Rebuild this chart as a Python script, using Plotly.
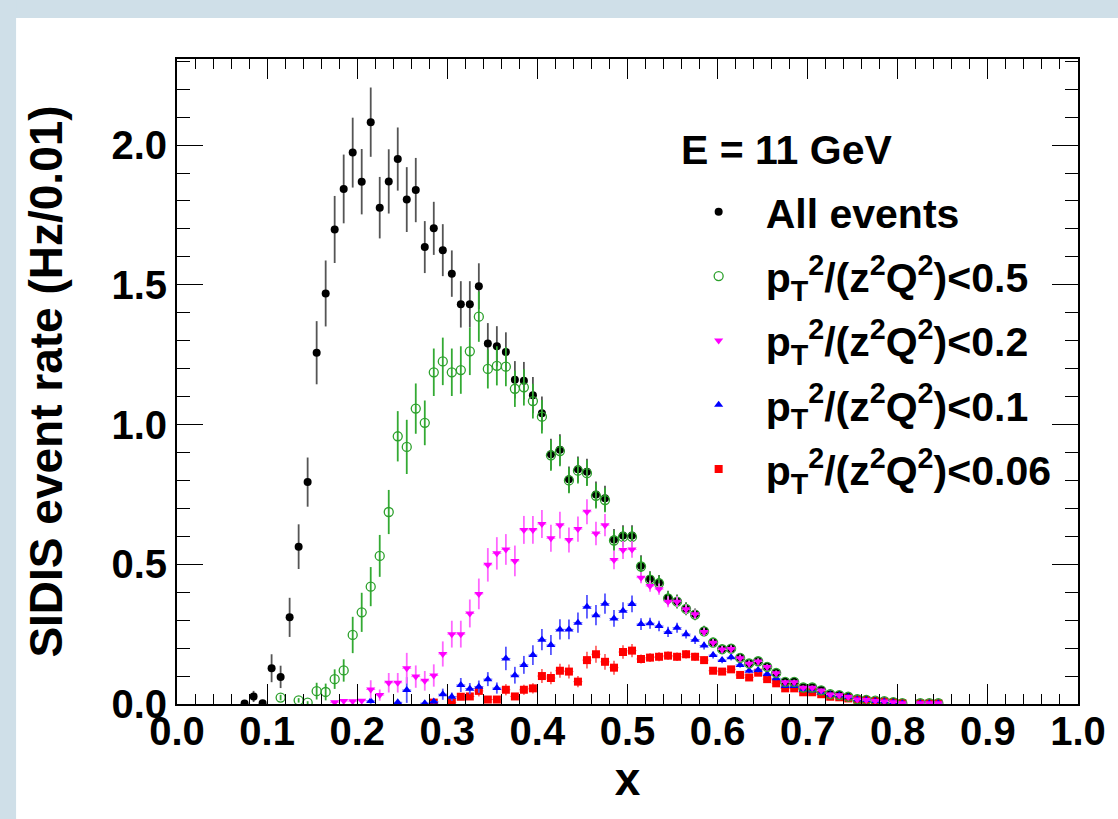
import plotly.graph_objects as go

# bin centres (bin width 0.01)
x_bins = [0.075, 0.085, 0.095, 0.105, 0.115, 0.125, 0.135, 0.145, 0.155, 0.165,
          0.175, 0.185, 0.195, 0.205, 0.215, 0.225, 0.235, 0.245, 0.255, 0.265,
          0.275, 0.285, 0.295, 0.305, 0.315, 0.325, 0.335, 0.345, 0.355, 0.365,
          0.375, 0.385, 0.395, 0.405, 0.415, 0.425, 0.435, 0.445, 0.455, 0.465,
          0.475, 0.485, 0.495, 0.505, 0.515, 0.525, 0.535, 0.545, 0.555, 0.565,
          0.575, 0.585, 0.595, 0.605, 0.615, 0.625, 0.635, 0.645, 0.655, 0.665,
          0.675, 0.685, 0.695, 0.705, 0.715, 0.725, 0.735, 0.745, 0.755, 0.765,
          0.775, 0.785, 0.795, 0.805, 0.815, 0.825, 0.835, 0.845]
x_halfwidth = [0.005] * len(x_bins)

N = None
all_y = [0.002, 0.027, 0.003, 0.128, 0.097, 0.31, 0.563, 0.794, 1.257, 1.469,
         1.698, 1.843, 1.973, 1.869, 2.082, 1.776, 1.87, 1.95, 1.805, 1.839,
         1.635, 1.702, 1.624, 1.54, 1.43, 1.43, 1.495, 1.29, 1.28, 1.26,
         1.16, 1.157, 1.105, 1.04, 0.894, 0.91, 0.804, 0.84, 0.831, 0.75,
         0.736, 0.589, 0.603, 0.603, 0.495, 0.447, 0.435, 0.38, 0.368, 0.342,
         0.322, 0.262, 0.221, 0.197, 0.199, 0.166, 0.146, 0.154, 0.134, 0.112,
         0.08, 0.08, 0.06, 0.06, 0.05, 0.035, 0.032, 0.026, 0.017, 0.015,
         0.012, 0.01, 0.007, 0.003, N, 0.003, 0.003, 0.003]
all_err = [0.005, 0.02, 0.005, 0.05, 0.04, 0.07, 0.08, 0.088, 0.113, 0.118,
           0.12, 0.123, 0.125, 0.117, 0.124, 0.11, 0.115, 0.113, 0.116, 0.115,
           0.093, 0.095, 0.093, 0.083, 0.083, 0.083, 0.082, 0.073, 0.072, 0.07,
           0.067, 0.067, 0.065, 0.06, 0.055, 0.055, 0.046, 0.046, 0.047, 0.046,
           0.045, 0.037, 0.037, 0.037, 0.037, 0.028, 0.027, 0.025, 0.024, 0.022,
           0.02, 0.018, 0.016, 0.015, 0.015, 0.013, 0.012, 0.012, 0.011, 0.01,
           0.009, 0.009, 0.008, 0.008, 0.007, 0.006, 0.006, 0.005, 0.004, 0.004,
           0.004, 0.003, 0.003, 0.002, N, 0.002, 0.002, 0.002]

pt05_y = [N, N, N, N, 0.023, N, 0.013, 0.005, 0.046, 0.043,
          0.089, 0.12, 0.247, 0.328, 0.42, 0.53, 0.687, 0.958, 0.92, 1.057,
          1.006, 1.187, 1.226, 1.187, 1.195, 1.262, 1.386, 1.199, 1.21, 1.207,
          1.128, 1.133, 1.084, 1.028, 0.89, 0.905, 0.80, 0.835, 0.826, 0.745,
          0.73, 0.585, 0.598, 0.598, 0.492, 0.445, 0.432, 0.378, 0.366, 0.34,
          0.32, 0.26, 0.22, 0.196, 0.198, 0.165, 0.145, 0.153, 0.133, 0.111,
          0.079, 0.079, 0.059, 0.059, 0.049, 0.035, 0.032, 0.026, 0.017, 0.015,
          0.012, 0.01, 0.007, 0.003, N, 0.003, 0.003, 0.003]
pt05_err = [N, N, N, N, 0.01, N, 0.008, 0.005, 0.03, 0.03,
            0.035, 0.04, 0.065, 0.07, 0.07, 0.075, 0.079, 0.09, 0.097, 0.09,
            0.08, 0.085, 0.085, 0.085, 0.085, 0.085, 0.09, 0.07, 0.07, 0.07,
            0.065, 0.065, 0.062, 0.06, 0.055, 0.054, 0.046, 0.046, 0.046, 0.045,
            0.044, 0.037, 0.036, 0.036, 0.036, 0.028, 0.027, 0.025, 0.024, 0.022,
            0.02, 0.018, 0.016, 0.015, 0.015, 0.013, 0.012, 0.012, 0.011, 0.01,
            0.009, 0.009, 0.008, 0.008, 0.007, 0.006, 0.006, 0.005, 0.004, 0.004,
            0.004, 0.003, 0.003, 0.002, N, 0.002, 0.002, 0.002]

pt02_y = [N, N, N, N, N, N, N, N, N, N,
          0.006, 0.011, 0.01, 0.012, 0.052, 0.032, 0.076, 0.076, 0.128, 0.098,
          0.083, 0.102, 0.179, 0.25, 0.25, 0.324, 0.394, 0.498, 0.539, 0.553,
          0.512, 0.623, 0.623, 0.644, 0.593, 0.64, 0.587, 0.626, 0.688, 0.61,
          0.64, 0.515, 0.551, 0.553, 0.452, 0.422, 0.411, 0.366, 0.366, 0.339,
          0.321, 0.258, 0.219, 0.195, 0.197, 0.164, 0.144, 0.152, 0.132, 0.11,
          0.078, 0.078, 0.058, 0.058, 0.048, 0.034, 0.031, 0.025, 0.016, 0.014,
          0.011, 0.009, 0.006, 0.003, N, 0.003, 0.003, 0.003]
pt02_err = [N, N, N, N, N, N, N, N, N, N,
            0.005, 0.005, 0.005, 0.005, 0.033, 0.02, 0.035, 0.035, 0.055, 0.04,
            0.035, 0.04, 0.045, 0.048, 0.048, 0.05, 0.055, 0.06, 0.058, 0.055,
            0.055, 0.05, 0.05, 0.05, 0.048, 0.048, 0.045, 0.045, 0.045, 0.042,
            0.04, 0.033, 0.032, 0.03, 0.02, 0.02, 0.02, 0.02, 0.02, 0.018,
            0.017, 0.015, 0.014, 0.013, 0.013, 0.012, 0.011, 0.011, 0.01, 0.009,
            0.008, 0.008, 0.007, 0.007, 0.006, 0.005, 0.005, 0.004, 0.004, 0.003,
            0.003, 0.003, 0.002, 0.002, N, 0.002, 0.002, 0.002]

pt01_y = [N, N, N, N, N, N, N, N, N, N,
          N, N, N, N, 0.011, N, N, 0.006, 0.05, N,
          0.003, 0.009, 0.035, 0.026, 0.068, 0.055, 0.062, 0.089, 0.057, 0.163,
          0.103, 0.14, 0.175, 0.23, 0.211, 0.267, 0.267, 0.291, 0.348, 0.318,
          0.359, 0.306, 0.334, 0.358, 0.286, 0.289, 0.279, 0.258, 0.273, 0.25,
          0.23, 0.209, 0.175, 0.157, 0.167, 0.14, 0.119, 0.122, 0.107, 0.092,
          0.064, 0.064, 0.05, 0.048, 0.04, 0.033, 0.03, 0.025, 0.016, 0.014,
          0.011, 0.009, 0.006, 0.003, N, 0.003, 0.003, 0.003]
pt01_err = [N, N, N, N, N, N, N, N, N, N,
            N, N, N, N, 0.01, N, N, 0.005, 0.046, N,
            0.003, 0.008, 0.02, 0.015, 0.025, 0.02, 0.022, 0.025, 0.02, 0.042,
            0.03, 0.032, 0.035, 0.038, 0.036, 0.036, 0.035, 0.036, 0.042, 0.036,
            0.036, 0.03, 0.03, 0.03, 0.021, 0.02, 0.019, 0.018, 0.018, 0.016,
            0.015, 0.014, 0.012, 0.011, 0.011, 0.01, 0.009, 0.009, 0.008, 0.007,
            0.006, 0.006, 0.005, 0.005, 0.004, 0.004, 0.004, 0.003, 0.003, 0.003,
            0.002, 0.002, 0.002, 0.002, N, 0.002, 0.002, 0.002]

pt006_y = [N, N, N, N, N, N, N, N, N, N,
           N, N, N, N, N, N, N, N, N, N,
           N, 0.005, N, 0.006, 0.026, 0.027, 0.047, 0.016, 0.016, 0.051,
           0.027, 0.051, 0.056, 0.1, 0.093, 0.119, 0.116, 0.08, 0.157, 0.178,
           0.151, 0.13, 0.186, 0.191, 0.161, 0.166, 0.169, 0.173, 0.169, 0.178,
           0.169, 0.157, 0.119, 0.116, 0.124, 0.104, 0.095, 0.112, 0.089, 0.074,
           0.056, 0.056, 0.042, 0.042, 0.035, 0.026, 0.024, 0.02, 0.015, 0.013,
           0.01, 0.008, 0.005, 0.003, N, 0.002, 0.002, 0.002]
pt006_err = [N, N, N, N, N, N, N, N, N, N,
             N, N, N, N, N, N, N, N, N, N,
             N, 0.004, N, 0.004, 0.012, 0.012, 0.02, 0.01, 0.01, 0.02,
             0.012, 0.018, 0.018, 0.025, 0.022, 0.025, 0.025, 0.02, 0.03, 0.03,
             0.028, 0.025, 0.024, 0.024, 0.016, 0.016, 0.016, 0.015, 0.015, 0.015,
             0.014, 0.013, 0.011, 0.01, 0.01, 0.009, 0.008, 0.009, 0.008, 0.007,
             0.006, 0.006, 0.005, 0.005, 0.004, 0.004, 0.003, 0.003, 0.003, 0.002,
             0.002, 0.002, 0.002, 0.001, N, 0.001, 0.001, 0.001]

labels = ["All events",
          "p<sub>T</sub><sup>2</sup>/(z<sup>2</sup>Q<sup>2</sup>)&lt;0.5",
          "p<sub>T</sub><sup>2</sup>/(z<sup>2</sup>Q<sup>2</sup>)&lt;0.2",
          "p<sub>T</sub><sup>2</sup>/(z<sup>2</sup>Q<sup>2</sup>)&lt;0.1",
          "p<sub>T</sub><sup>2</sup>/(z<sup>2</sup>Q<sup>2</sup>)&lt;0.06"]
legend_header = "E = 11 GeV"

FONT = "Liberation Sans, Arial, Helvetica, sans-serif"

fig = go.Figure()

def add(y, err, name, rank, symbol, size, color, barcolor, xerr=False, line=None):
    marker = dict(symbol=symbol, size=size, color=color)
    if line:
        marker["line"] = line
    fig.add_trace(go.Scatter(
        x=x_bins, y=y, mode="markers", name=name, legendrank=rank,
        legendgroup="g%d" % rank,
        marker=marker,
        error_y=dict(type="data", array=err, visible=True, color=barcolor,
                     thickness=1.8, width=0),
        error_x=dict(type="data", array=x_halfwidth, visible=xerr,
                     color=barcolor, thickness=1, width=0),
    ))

add(all_y, all_err, labels[0], 1, "circle", 8, "black", "#555555")
add(pt006_y, pt006_err, labels[4], 5, "square", 8, "#ff0000", "#ff6666", xerr=True)
add(pt01_y, pt01_err, labels[3], 4, "triangle-up", 8, "#0000ff", "#5555ff", xerr=True)
add(pt05_y, pt05_err, labels[1], 2, "circle-open", 9, "#2ca02c", "#33aa33",
    line=dict(width=1.3, color="#22a022"))
add(pt02_y, pt02_err, labels[2], 3, "triangle-down", 8, "#ff00ff", "#ff66ff", xerr=True)

axis_common = dict(
    showline=True, linecolor="black", linewidth=2, mirror="ticks",
    ticks="inside", tickcolor="black", tickwidth=1.2,
    showgrid=False, zeroline=False,
)

fig.update_xaxes(
    range=[0, 1], dtick=0.1, tick0=0, tickformat=".1f", ticklen=20,
    tickfont=dict(family=FONT, size=40, color="black", weight="bold"),
    ticklabelstandoff=-9,
    minor=dict(ticks="inside", dtick=0.02, ticklen=10, tickcolor="black", tickwidth=1.2),
    title=dict(text="x", font=dict(family=FONT, size=46, color="black", weight="bold"),
               standoff=6),
    **axis_common,
)
fig.update_yaxes(
    range=[0, 2.308], dtick=0.5, tick0=0, tickformat=".1f", ticklen=26,
    tickfont=dict(family=FONT, size=40, color="black", weight="bold"),
    ticklabelstandoff=0,
    minor=dict(ticks="inside", dtick=0.1, ticklen=13, tickcolor="black", tickwidth=1.2),
    title=dict(text="SIDIS event rate (Hz/0.01)",
               font=dict(family=FONT, size=46, color="black", weight="bold"),
               standoff=34),
    **axis_common,
)

# light blue slide border (top and left strips)
strip = "#cfdfe8"
fig.add_shape(type="rect", xref="paper", yref="paper", x0=-0.2, x1=1.05,
              y0=1.0636, y1=1.1, fillcolor=strip, line_width=0, layer="below")
fig.add_shape(type="rect", xref="paper", yref="paper", x0=-0.2, x1=-0.1786,
              y0=-0.2, y1=1.1, fillcolor=strip, line_width=0, layer="below")

# legend header
fig.add_annotation(text=legend_header, xref="paper", yref="paper",
                   x=0.557, y=0.859, xanchor="left", yanchor="middle",
                   showarrow=False,
                   font=dict(family=FONT, size=41, color="black", weight="bold"))

fig.update_layout(
    width=1118, height=819,
    margin=dict(l=177, r=34, t=59, b=115),
    paper_bgcolor="white", plot_bgcolor="white",
    font=dict(family=FONT, color="black"),
    showlegend=True,
    legend=dict(
        x=0.549, y=0.8145, xanchor="left", yanchor="top",
        bgcolor="rgba(0,0,0,0)", borderwidth=0,
        traceorder="grouped", tracegroupgap=8,
        itemwidth=84,
        font=dict(family=FONT, size=41, color="black", weight="bold"),
    ),
)

fig.write_html("out.html", config={"displayModeBar": False},
               post_script="document.body.style.margin='0';document.body.style.padding='0';")
